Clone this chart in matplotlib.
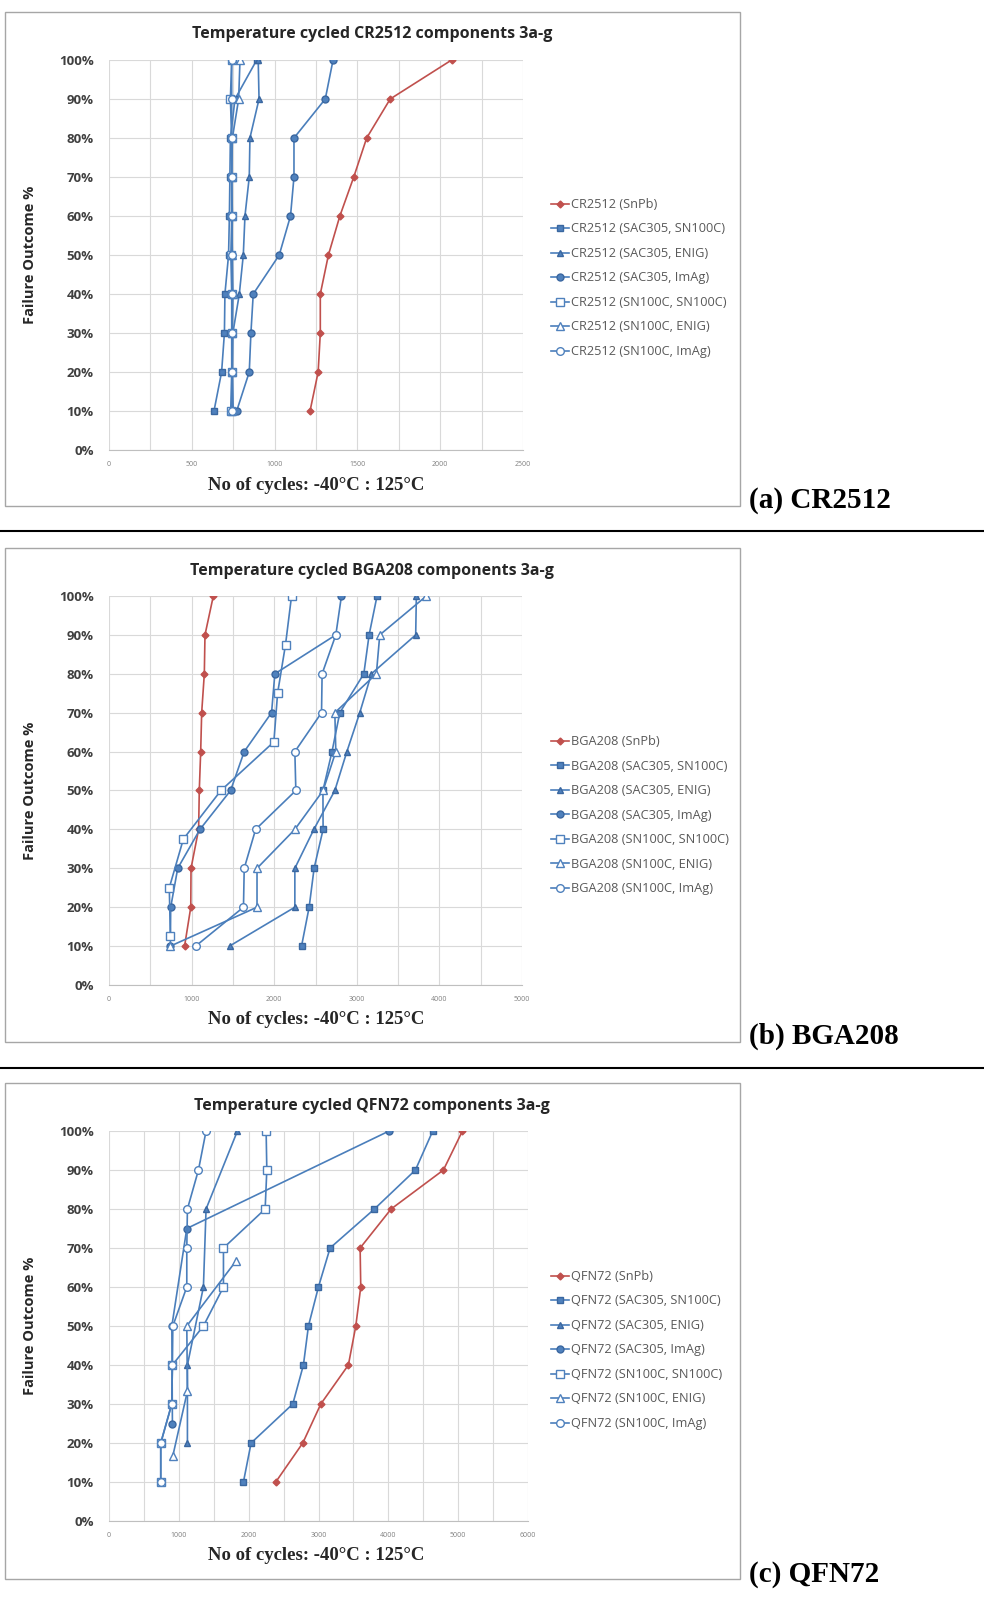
import matplotlib.pyplot as plt
from matplotlib.patches import Rectangle
from matplotlib.lines import Line2D
from matplotlib.ticker import FuncFormatter

# ---------------- data (cycles to failure at each failure outcome %) ----------------
pct10 = [10, 20, 30, 40, 50, 60, 70, 80, 90, 100]

# (a) CR2512
cr_snpb = [1214, 1263, 1276, 1276, 1325, 1394, 1478, 1556, 1698, 2069]
cr_sac_sn = [634, 680, 697, 700, 722, 727, 730, 733, 761, 892]
cr_sac_enig = [750, 745, 748, 787, 811, 821, 847, 851, 906, 901]
cr_sac_imag = [771, 847, 857, 871, 1028, 1096, 1117, 1117, 1306, 1353]
cr_sn_sn = [735, 741, 741, 741, 736, 741, 741, 741, 733, 741]
cr_sn_enig = [745, 745, 745, 748, 745, 741, 741, 745, 783, 791]
cr_sn_imag = [741, 743, 743, 745, 741, 745, 741, 741, 741, 741]

# (b) BGA208
bga_snpb = [915, 990, 993, 1085, 1093, 1110, 1122, 1154, 1162, 1263]
bga_sac_sn = [2331, 2423, 2483, 2592, 2590, 2700, 2794, 3085, 3149, 3245]
bga_sac_enig = [1459, 2250, 2250, 2480, 2734, 2880, 3036, 3177, 3713, 3721]
bga_sac_imag = [743, 747, 832, 1101, 1472, 1637, 1968, 2008, 2746, 2814]
bga_sn_sn_pct = [12.5, 25, 37.5, 50, 62.5, 75, 87.5, 100]
bga_sn_sn = [743, 730, 900, 1355, 1996, 2041, 2137, 2210]
bga_sn_enig = [743, 1792, 1792, 2250, 2592, 2746, 2734, 3237, 3278, 3842]
bga_sn_imag_pct = [10, 20, 30, 40, 50, 60, 70, 80, 90]
bga_sn_imag = [1049, 1628, 1637, 1775, 2262, 2250, 2573, 2580, 2746]

# (c) QFN72
qfn_snpb = [2388, 2775, 3033, 3428, 3534, 3605, 3596, 4040, 4789, 5061]
qfn_sac_sn = [1925, 2035, 2632, 2784, 2856, 2999, 3166, 3801, 4388, 4636]
qfn_sac_enig_pct = [20, 40, 60, 80, 100]
qfn_sac_enig = [1123, 1123, 1352, 1390, 1839]
qfn_sac_imag_pct = [25, 50, 75, 100]
qfn_sac_imag = [908, 900, 1114, 4011]
qfn_sn_sn = [741, 741, 899, 908, 1352, 1639, 1639, 2236, 2260, 2250]
qfn_sn_enig_pct = [16.7, 33.3, 50, 66.7]
qfn_sn_enig = [914, 1123, 1114, 1820]
qfn_sn_imag = [741, 741, 899, 908, 914, 1114, 1114, 1123, 1281, 1390]

suffixes = ['(SnPb)', '(SAC305, SN100C)', '(SAC305, ENIG)', '(SAC305, ImAg)',
            '(SN100C, SN100C)', '(SN100C, ENIG)', '(SN100C, ImAg)']

# ---------------- styles ----------------
W, H = 984, 1602
blue = '#4A7EBB'
blue_fill = '#4F81BD'
blue_edge = '#3A67A0'
red = '#C0504D'
sans = 'Open Sans'
serif = 'Liberation Serif'

styles = [
    dict(color=red, marker='D', ms=3.5, mfc=red, mec=red),
    dict(color=blue, marker='s', ms=5, mfc=blue_fill, mec=blue_edge),
    dict(color=blue, marker='^', ms=5, mfc=blue_fill, mec=blue_edge),
    dict(color=blue, marker='o', ms=5, mfc=blue_fill, mec=blue_edge),
    dict(color=blue, marker='s', ms=5.5, mfc='white', mec=blue_fill),
    dict(color=blue, marker='^', ms=5.5, mfc='white', mec=blue_fill),
    dict(color=blue, marker='o', ms=5.5, mfc='white', mec=blue_fill),
]

fig = plt.figure(figsize=(W / 100, H / 100), dpi=100)


def fx(x):
    return x / W


def fy(y):
    return 1 - y / H


def draw_panel(name, series, box, plot, title_y, xmax, xmajor, xminor, legend_y, tag, tag_y):
    bx0, by0, bx1, by1 = box
    fig.add_artist(Rectangle((fx(bx0), fy(by1)), (bx1 - bx0) / W, (by1 - by0) / H,
                             transform=fig.transFigure, fill=False, ec='#a6a6a6', lw=1))
    x0, y0, x1, y1 = plot
    ax = fig.add_axes([fx(x0), fy(y1), (x1 - x0) / W, (y1 - y0) / H])
    for (vals, pcts), suf, st in zip(series, suffixes, styles):
        ax.plot(vals, pcts, lw=1.2, label=name + ' ' + suf, zorder=3, **st)
    ax.set_xlim(0, xmax)
    ax.set_ylim(0, 100)
    ax.set_xticks(range(0, xmax + 1, xmajor))
    ax.set_xticks(range(0, xmax + 1, xminor), minor=True)
    ax.set_yticks(range(0, 101, 10))
    ax.yaxis.set_major_formatter(FuncFormatter(lambda v, p: '%d%%' % v))
    ax.grid(True, which='both', color='#d9d9d9', lw=0.8)
    ax.set_axisbelow(True)
    for s in ['top', 'right', 'left']:
        ax.spines[s].set_visible(False)
    ax.spines['bottom'].set_color('#bfbfbf')
    ax.tick_params(which='both', length=0)
    ax.tick_params(axis='x', labelsize=5, labelcolor='#7f7f7f', pad=8)
    ax.tick_params(axis='y', labelsize=9.5, labelcolor='#404040', pad=11)
    for t in ax.get_yticklabels():
        t.set_fontfamily(sans)
        t.set_fontweight('bold')
    for t in ax.get_xticklabels():
        t.set_fontfamily(sans)
    fig.text(fx(372), fy(title_y), 'Temperature cycled %s components 3a-g' % name,
             ha='center', va='center', fontsize=11.5, fontweight='bold',
             family=sans, color='#262626')
    fig.text(fx(30), fy((y0 + y1) / 2), 'Failure Outcome %', rotation=90,
             ha='center', va='center', fontsize=10.5, fontweight='bold',
             family=sans, color='#262626')
    fig.text(fx(316), fy(y1 + 35), 'No of cycles: -40\u00b0C : 125\u00b0C',
             ha='center', va='center', fontsize=13.5, fontweight='bold',
             family=serif, color='#262626')
    ax.legend(loc='upper left', bbox_to_anchor=(fx(551), fy(legend_y)),
              bbox_transform=fig.transFigure, frameon=False,
              prop={'family': sans, 'size': 9.2}, labelcolor='#595959',
              handlelength=1.4, handletextpad=0.2, labelspacing=0.9,
              borderpad=0, borderaxespad=0)
    fig.text(fx(749), fy(tag_y), tag, ha='left', va='center', fontsize=21,
             fontweight='bold', family=serif, color='black')


cr_series = [(cr_snpb, pct10), (cr_sac_sn, pct10), (cr_sac_enig, pct10), (cr_sac_imag, pct10),
             (cr_sn_sn, pct10), (cr_sn_enig, pct10), (cr_sn_imag, pct10)]
bga_series = [(bga_snpb, pct10), (bga_sac_sn, pct10), (bga_sac_enig, pct10), (bga_sac_imag, pct10),
              (bga_sn_sn, bga_sn_sn_pct), (bga_sn_enig, pct10), (bga_sn_imag, bga_sn_imag_pct)]
qfn_series = [(qfn_snpb, pct10), (qfn_sac_sn, pct10), (qfn_sac_enig, qfn_sac_enig_pct),
              (qfn_sac_imag, qfn_sac_imag_pct), (qfn_sn_sn, pct10),
              (qfn_sn_enig, qfn_sn_enig_pct), (qfn_sn_imag, pct10)]

draw_panel('CR2512', cr_series, (5, 12, 740, 506), (109, 60, 523, 450), 34,
           2500, 500, 250, 198, '(a) CR2512', 501)
draw_panel('BGA208', bga_series, (5, 548, 740, 1042), (109, 596, 522, 985), 571,
           5000, 1000, 500, 735, '(b) BGA208', 1036)
draw_panel('QFN72', qfn_series, (5, 1083, 740, 1579), (109, 1131, 528, 1521), 1106,
           6000, 1000, 500, 1270, '(c) QFN72', 1574)

# separators between the three charts
for sy in [531, 1068]:
    fig.add_artist(Line2D([0, 1], [fy(sy), fy(sy)], transform=fig.transFigure,
                          color='black', lw=1.5))

fig.savefig('out.png', dpi=100)
